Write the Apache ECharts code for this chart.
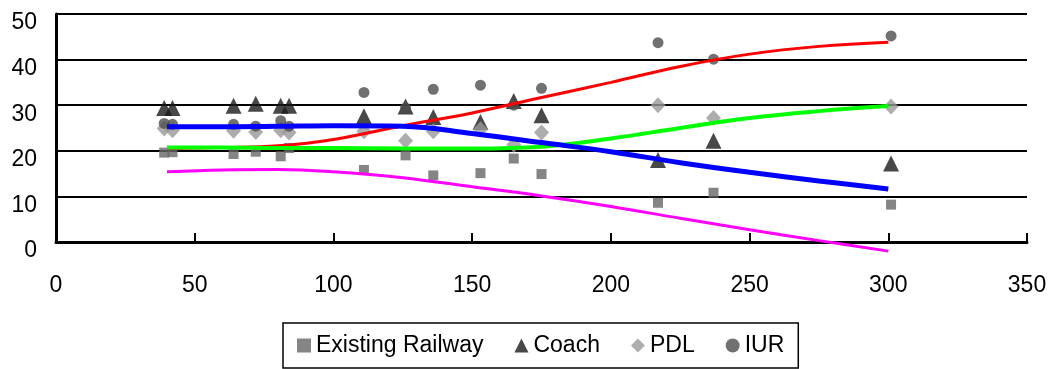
<!DOCTYPE html>
<html>
<head>
<meta charset="utf-8">
<script src="https://cdn.jsdelivr.net/npm/echarts@6/dist/echarts.min.js"></script>
<style>
  html, body { margin: 0; padding: 0; background: #fff; }
  #chart { width: 1050px; height: 369px; }
</style>
</head>
<body>
<div id="chart"></div>
<script>
// observed points (x = distance)
var distances = [39, 42, 64, 72, 81, 84, 111, 126, 136, 153, 165, 175, 217, 237, 301];
var railway = [19.6, 19.7, 19.3, 19.8, 18.8, 20.6, 15.8, 19.0, 14.6, 15.1, 18.3, 14.9, 8.6, 10.8, 8.2];
var coach = [29.4, 29.4, 29.9, 30.3, 29.9, 29.9, 27.6, 29.7, 27.4, 26.3, 30.9, 27.8, 18.0, 22.2, 17.2];
var pdl = [24.9, 24.5, 24.4, 24.1, 24.5, 24.0, 24.3, 22.2, 24.3, 24.7, 21.3, 24.0, 30.0, 27.2, 29.7];
var iur = [26.0, 25.8, 25.8, 25.4, 26.6, 25.4, 32.8, 29.4, 33.5, 34.4, 30.0, 33.7, 43.7, 40.1, 45.2];

// fitted curves
var trendX = [40, 60, 80, 100, 125, 150, 175, 200, 225, 250, 275, 300];
var trendRailway = [15.4, 15.8, 15.9, 15.4, 14.1, 12.1, 10.1, 7.8, 5.2, 2.7, 0.3, -2.0];
var trendIur = [20.5, 20.7, 21.1, 22.5, 25.5, 28.3, 31.7, 35.0, 38.5, 41.2, 42.9, 43.8];
var trendPdl = [20.7, 20.7, 20.6, 20.6, 20.5, 20.5, 20.9, 22.7, 25.0, 27.2, 28.7, 29.8];
var trendCoach = [25.3, 25.3, 25.4, 25.5, 25.4, 23.8, 21.8, 19.8, 17.4, 15.3, 13.4, 11.6];

var xTicks = [0, 50, 100, 150, 200, 250, 300, 350];
var yTicks = [0, 10, 20, 30, 40, 50];

function pairs(xs, ys) {
  return xs.map(function (x, i) { return [x, ys[i]]; });
}

var font = "'Liberation Sans', Arial, sans-serif";
var myChart = echarts.init(document.getElementById("chart"));

function scatter(name, data, symbol, size, color) {
  return {
    name: name,
    type: "scatter",
    symbol: symbol,
    symbolSize: size,
    itemStyle: { color: color },
    data: pairs(distances, data),
    z: 2
  };
}

function trend(data, color, width) {
  return {
    type: "line",
    smooth: 0.4,
    showSymbol: false,
    symbol: "none",
    clip: false,
    lineStyle: { color: color, width: width },
    data: pairs(trendX, data),
    z: 3
  };
}

var option = {
  animation: false,
  grid: { left: 56, right: 23, top: 14, bottom: 127 },
  xAxis: {
    type: "value",
    min: xTicks[0],
    max: xTicks[xTicks.length - 1],
    interval: 50,
    axisLine: { lineStyle: { color: "#000", width: 3 } },
    axisTick: { show: true, inside: true, length: 9, lineStyle: { color: "#000", width: 2 } },
    axisLabel: { color: "#000", fontSize: 23, fontFamily: font, margin: 32 },
    splitLine: { show: false }
  },
  yAxis: {
    type: "value",
    min: yTicks[0],
    max: yTicks[yTicks.length - 1],
    interval: 10,
    axisLine: { show: true, lineStyle: { color: "#000", width: 3 } },
    axisTick: { show: false },
    axisLabel: {
      color: "#000", fontSize: 23, fontFamily: font, margin: 19,
      verticalAlign: "top", lineHeight: 18
    },
    splitLine: { show: true, lineStyle: { color: "#000", width: 2 } }
  },
  legend: {
    data: ["Existing Railway", "Coach", "PDL", "IUR"],
    left: 283,
    bottom: 1,
    borderColor: "#000",
    borderWidth: 1.5,
    borderRadius: 0,
    padding: [11, 14],
    itemGap: 31,
    itemWidth: 14,
    itemHeight: 14,
    textStyle: { color: "#000", fontSize: 23, fontFamily: font }
  },
  series: [
    scatter("Existing Railway", railway, "rect", 10, "#666666"),
    scatter("Coach", coach, "triangle", [16, 16], "#1a1a1a"),
    scatter("PDL", pdl, "diamond", [15, 16], "#999999"),
    scatter("IUR", iur, "circle", 11, "#4d4d4d"),
    trend(trendRailway, "#ff00ff", 3),
    trend(trendIur, "#ff0000", 3),
    trend(trendPdl, "#00ff00", 4),
    trend(trendCoach, "#0000ff", 5)
  ]
};
myChart.setOption(option, true);
</script>
</body>
</html>
